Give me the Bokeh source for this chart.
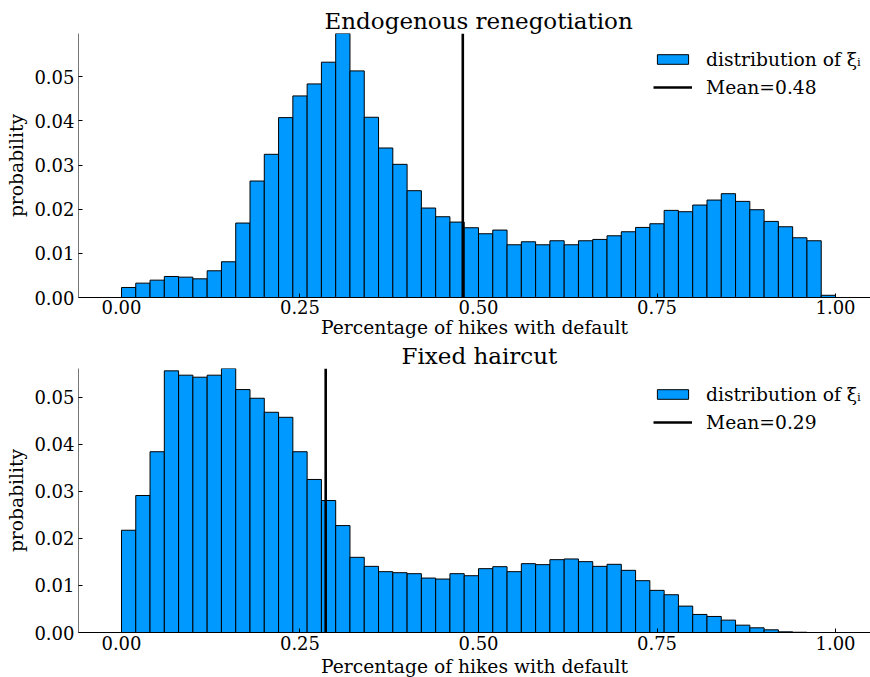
import numpy as np
from bokeh.plotting import figure
from bokeh.layouts import column
from bokeh.models import Range1d, FixedTicker, NumeralTickFormatter, Legend, LegendItem
from bokeh.embed import file_html
from bokeh.resources import INLINE

# ---------------- data ----------------
bin_edges = np.linspace(0.0, 1.0, 51)

endo_prob = [0.00227, 0.00325, 0.00393, 0.00476, 0.00461, 0.00423, 0.00605, 0.00809,
             0.01686, 0.02638, 0.03243, 0.04074, 0.04565, 0.04837, 0.05329, 0.05979,
             0.05132, 0.04082, 0.03386, 0.03016, 0.02419, 0.02026, 0.01829, 0.01708,
             0.01580, 0.01444, 0.01527, 0.01194, 0.01262, 0.01194, 0.01285, 0.01194,
             0.01285, 0.01315, 0.01398, 0.01489, 0.01587, 0.01670, 0.01973, 0.01943,
             0.02094, 0.02207, 0.02351, 0.02177, 0.01988, 0.01723, 0.01602, 0.01353,
             0.01285, 0.00050]

fixed_prob = [0.02175, 0.02914, 0.03845, 0.05565, 0.05473, 0.05430, 0.05473, 0.05615,
              0.05167, 0.04982, 0.04684, 0.04577, 0.03845, 0.03255, 0.02807, 0.02274,
              0.01599, 0.01407, 0.01294, 0.01272, 0.01251, 0.01158, 0.01137, 0.01251,
              0.01208, 0.01358, 0.01400, 0.01294, 0.01464, 0.01443, 0.01549, 0.01564,
              0.01507, 0.01407, 0.01450, 0.01322, 0.01102, 0.00896, 0.00803, 0.00561,
              0.00384, 0.00341, 0.00263, 0.00156, 0.00100, 0.00057, 0.00014, 0.00005,
              0.0, 0.0]

endo_mean = 0.478
fixed_mean = 0.286

titles = ["Endogenous renegotiation", "Fixed haircut"]
x_label = "Percentage of hikes with default"
y_label = "probability"
x_ticks = [0.0, 0.25, 0.5, 0.75, 1.0]
y_ticks = [0.0, 0.01, 0.02, 0.03, 0.04, 0.05]

FONT = "DejaVu Serif"
BAR_COLOR = "#0099ff"


def make_panel(title, probs, mean, title_offset):
    ymax = max(probs)
    p = figure(frame_width=792, frame_height=264,
               x_range=Range1d(-0.0602, 1.049), y_range=Range1d(0, ymax),
               output_backend="svg", toolbar_location=None,
               min_border_left=78, min_border_right=0, min_border_top=33,
               min_border_bottom=0)
    p.title.text = title
    p.title.text_font = FONT
    p.title.text_font_size = "23px"
    p.title.text_font_style = "normal"
    p.title.text_color = "black"
    p.title.align = "left"
    p.title.offset = title_offset
    p.title.standoff = 0

    bars = p.quad(left=bin_edges[:-1], right=bin_edges[1:], bottom=0, top=probs,
                  fill_color=BAR_COLOR, line_color="black", line_width=1)
    mline = p.segment(x0=[mean], y0=[0], x1=[mean], y1=[ymax],
                      line_color="black", line_width=2.6)

    p.xgrid.visible = False
    p.ygrid.visible = False
    p.outline_line_color = None
    p.background_fill_color = "white"

    xa = p.xaxis[0]
    xa.ticker = FixedTicker(ticks=x_ticks)
    xa.formatter = NumeralTickFormatter(format="0.00")
    xa.axis_label = x_label
    ya = p.yaxis[0]
    ya.ticker = FixedTicker(ticks=y_ticks)
    ya.formatter = NumeralTickFormatter(format="0.00")
    ya.axis_label = y_label
    for ax in (xa, ya):
        ax.major_label_text_font = FONT
        ax.major_label_text_font_size = "18px"
        ax.major_label_text_color = "black"
        ax.axis_label_text_font = FONT
        ax.axis_label_text_font_size = "18.7px"
        ax.axis_label_text_font_style = "normal"
        ax.axis_label_text_color = "black"
        ax.major_tick_in = 4
        ax.major_tick_out = 0
        ax.minor_tick_line_color = None
        ax.major_tick_line_color = "black"
        ax.major_label_standoff = 4
        ax.axis_label_standoff = 4
    xa.major_label_standoff = 2
    xa.axis_label_standoff = 0
    xa.axis_line_color = "black"
    ya.axis_line_color = "#777777"

    legend = Legend(items=[
        LegendItem(label="distribution of \u03be\u1d62", renderers=[bars]),
        LegendItem(label="Mean=%.2f" % mean, renderers=[mline]),
    ], location=(575, 199))
    legend.label_text_font = FONT
    legend.label_text_font_size = "18.7px"
    legend.label_text_color = "black"
    legend.glyph_width = 39
    legend.glyph_height = 12
    legend.label_standoff = 14
    legend.label_height = 22
    legend.spacing = 6
    legend.padding = 0
    legend.margin = 0
    legend.border_line_color = None
    legend.background_fill_alpha = 0
    p.add_layout(legend, "center")
    return p


p1 = make_panel(titles[0], endo_prob, endo_mean, 246)
p2 = make_panel(titles[1], fixed_prob, fixed_mean, 323)
p2.min_border_top = 0
p2.xaxis[0].major_label_standoff = 3
p2.xaxis[0].axis_label_standoff = 3

layout = column(p1, p2, spacing=0)
open("out.html", "w").write(file_html(layout, INLINE))
